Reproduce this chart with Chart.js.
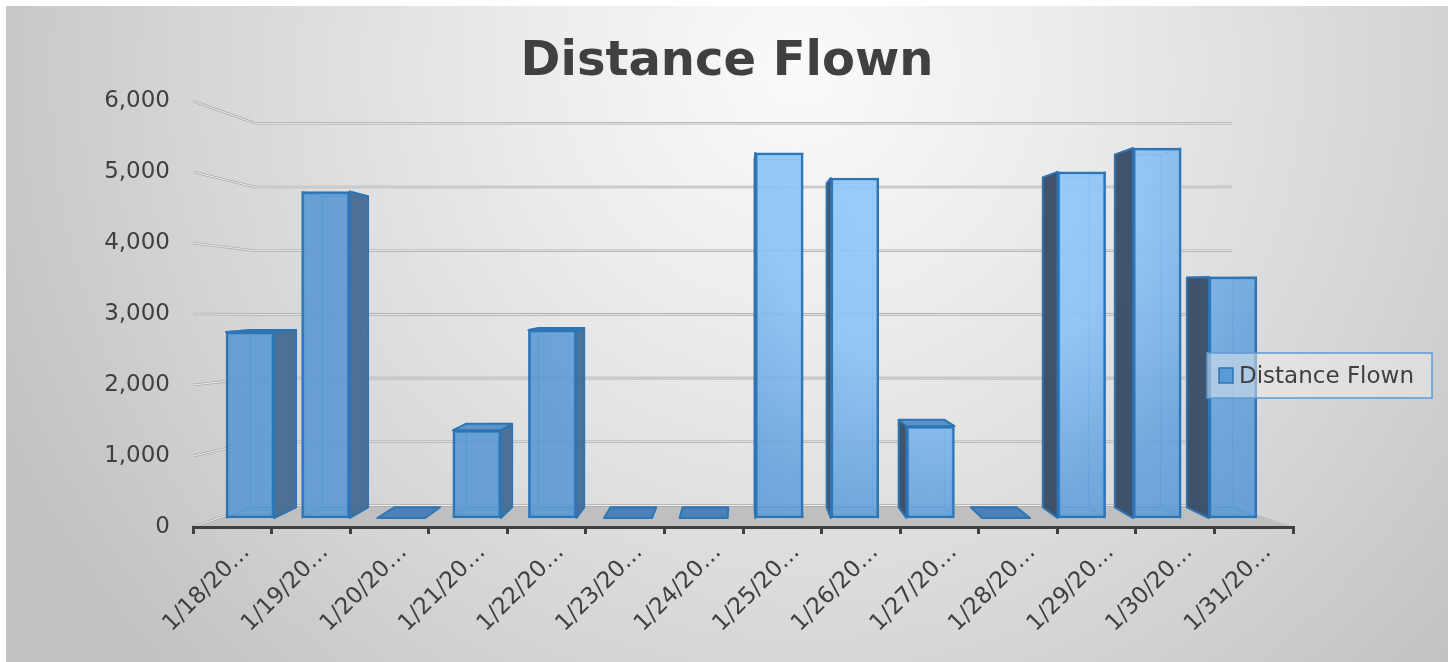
<!DOCTYPE html>
<html>
<head>
<meta charset="utf-8">
<script src="https://cdn.jsdelivr.net/npm/chart.js@4.4.1/dist/chart.umd.min.js"></script>
<style>
html,body{margin:0;padding:0;background:#fff;}
#wrap{width:1453px;height:662px;position:relative;}
</style>
</head>
<body>
<div id="wrap"><canvas id="c" width="1453" height="662"></canvas></div>
<script>
// ---- data ----
const chartTitle = 'Distance Flown';
const seriesName = 'Distance Flown';
const categories = ['1/18/20…','1/19/20…','1/20/20…','1/21/20…','1/22/20…','1/23/20…','1/24/20…',
                    '1/25/20…','1/26/20…','1/27/20…','1/28/20…','1/29/20…','1/30/20…','1/31/20…'];
const distanceFlown = [2735, 4800, 0, 1290, 2765, 0, 0, 5370, 5000, 1350, 0, 5090, 5440, 3545];
const yTickValues = [0, 1000, 2000, 3000, 4000, 5000, 6000];

// ---- style ----
const FONT = '"DejaVu Sans", Verdana, sans-serif';
const TXT = '#404040';
const VP = {x: 742, y: 290}, DK = 0.047;   // pseudo-3D depth projection
function pj(p){ return [p[0] + (VP.x - p[0]) * DK, p[1] + (VP.y - p[1]) * DK]; }

let frontGrad = null;
function frontFill(chart){
  if (!chart.chartArea) return 'rgba(91,155,213,0.88)';
  if (!frontGrad){
    const g = chart.ctx.createRadialGradient(950, 180, 0, 950, 180, 460);
    g.addColorStop(0, 'rgba(150,204,252,0.9)');
    g.addColorStop(0.42, 'rgba(138,194,245,0.9)');
    g.addColorStop(0.72, 'rgba(100,162,220,0.88)');
    g.addColorStop(1, 'rgba(88,152,212,0.88)');
    frontGrad = g;
  }
  return frontGrad;
}

const bgPlugin = {
  id: 'bg',
  beforeDraw(chart){
    const c = chart.ctx, W = chart.width, H = chart.height;
    c.save();
    c.fillStyle = '#fff'; c.fillRect(0, 0, W, H);
    const g = c.createRadialGradient(800, 70, 0, 800, 70, 880);
    g.addColorStop(0, '#fafafa');
    g.addColorStop(0.3, '#ececec');
    g.addColorStop(0.7, '#d5d5d5');
    g.addColorStop(1, '#c2c2c2');
    c.fillStyle = g; c.fillRect(6, 6, W - 11, H - 6);
    const a = chart.chartArea, yF = chart.scales.y, yW = chart.scales.yw;
    const wl = a.left + 62, wr = a.right - 61;
    const y0f = yF.getPixelForValue(0), y0w = yW.getPixelForValue(0);
    // floor
    c.beginPath();
    c.moveTo(a.left, y0f); c.lineTo(a.right, y0f); c.lineTo(wr, y0w); c.lineTo(wl, y0w); c.closePath();
    c.fillStyle = '#bfbfbf'; c.fill();
    // back wall gridlines with side connectors
    yTickValues.forEach(v => {
      const yf = yF.getPixelForValue(v), yw = yW.getPixelForValue(v);
      c.beginPath(); c.moveTo(a.left, yf); c.lineTo(wl, yw); c.lineTo(wr, yw);
      c.lineWidth = 2.6; c.strokeStyle = '#acacac'; c.stroke();
      c.lineWidth = 1; c.strokeStyle = '#ebebeb'; c.stroke();
    });
    c.restore();
  }
};

const depthPlugin = {
  id: 'depth',
  beforeDatasetsDraw(chart){
    const c = chart.ctx, meta = chart.getDatasetMeta(0);
    c.save(); c.lineJoin = 'round';
    const poly = (pts, fill) => {
      c.beginPath(); c.moveTo(pts[0][0], pts[0][1]);
      for (let i = 1; i < pts.length; i++) c.lineTo(pts[i][0], pts[i][1]);
      c.closePath(); c.fillStyle = fill; c.fill();
      c.strokeStyle = '#2e75b6'; c.lineWidth = 2; c.stroke();
    };
    meta.data.forEach(el => {
      const p = el.getProps(['x', 'y', 'base', 'width'], true);
      const x1 = p.x - p.width / 2, x2 = p.x + p.width / 2;
      const yT = Math.min(p.y, p.base), yB = Math.max(p.y, p.base);
      const TL = [x1, yT], TR = [x2, yT], BR = [x2, yB], BL = [x1, yB];
      const tl = pj(TL), tr = pj(TR), br = pj(BR), bl = pj(BL);
      const tall = yB - yT > 0.5;
      if (tall){
        c.strokeStyle = 'rgba(46,117,182,0.55)'; c.lineWidth = 1.5;
        c.beginPath();
        c.moveTo(tl[0], tl[1]); c.lineTo(tr[0], tr[1]); c.lineTo(br[0], br[1]); c.lineTo(bl[0], bl[1]); c.closePath();
        [[TL, tl], [TR, tr], [BR, br], [BL, bl]].forEach(([f, b]) => { c.moveTo(f[0], f[1]); c.lineTo(b[0], b[1]); });
        c.stroke();
        if (tr[0] > x2 + 0.5) poly([TR, tr, br, BR], 'rgba(70,106,145,0.95)');
        if (tl[0] < x1 - 0.5) poly([TL, tl, bl, BL], 'rgba(58,80,103,0.97)');
      }
      if (tl[1] < yT) poly([TL, TR, tr, tl], tall ? '#5c93c9' : '#4c81b7');
    });
    c.restore();
  }
};

const overlayPlugin = {
  id: 'overlay',
  afterDraw(chart){
    const c = chart.ctx;
    c.save();
    // title
    c.font = 'bold 48px ' + FONT; c.fillStyle = TXT; c.textAlign = 'center'; c.textBaseline = 'alphabetic';
    c.fillText(chartTitle, 727, 75);
    // legend
    const lx = 1207, ly = 353, lw = 225, lh = 45;
    c.fillStyle = 'rgba(236,236,236,0.5)'; c.fillRect(lx, ly, lw, lh);
    c.strokeStyle = '#5b9bd5'; c.lineWidth = 1.5; c.strokeRect(lx, ly, lw, lh);
    c.fillStyle = '#5b9bd5'; c.fillRect(1219, 368, 14, 15);
    c.strokeStyle = '#2e75b6'; c.lineWidth = 1.5; c.strokeRect(1219, 368, 14, 15);
    c.font = '23px ' + FONT; c.fillStyle = TXT; c.textAlign = 'left'; c.textBaseline = 'middle';
    c.fillText(chart.data.datasets[0].label, 1239, 377);
    c.restore();
  }
};

new Chart(document.getElementById('c'), {
  type: 'bar',
  data: {
    labels: categories,
    datasets: [{
      label: seriesName,
      data: distanceFlown.map((v, i) => ({x: i, y: v})),
      xAxisID: 'xb', yAxisID: 'yb',
      backgroundColor: ctx => frontFill(ctx.chart),
      borderColor: '#2e75b6', borderWidth: 2.5, borderSkipped: false,
      barThickness: 48
    }]
  },
  options: {
    responsive: false, animation: false, devicePixelRatio: 1,
    layout: {padding: {left: 0, right: 160, top: 101, bottom: 0}},
    plugins: {legend: {display: false}, title: {display: false}, tooltip: {enabled: false}},
    scales: {
      x: {
        type: 'category', position: 'bottom', offset: true,
        grid: {offset: true, drawOnChartArea: false, drawTicks: true, tickLength: 7, color: '#404040', lineWidth: 3},
        border: {display: true, color: '#404040', width: 3},
        ticks: {autoSkip: false, maxRotation: 45, minRotation: 45, labelOffset: 14, padding: 5,
                color: TXT, font: {family: FONT, size: 23}},
        afterFit(s){ s.height = 135; }
      },
      y: {
        type: 'linear', position: 'left', min: 0, max: 6000,
        afterBuildTicks(s){ s.ticks = yTickValues.map(v => ({value: v})); },
        ticks: {padding: 23, color: TXT, font: {family: FONT, size: 23},
                callback: v => Number(v).toLocaleString('en-US')},
        grid: {display: false, drawTicks: false},
        border: {display: false},
        afterFit(s){ s.width = 193; }
      },
      xb: {type: 'linear', display: false, min: -0.754, max: 13.796, offset: false, grid: {offset: false}},
      yb: {type: 'linear', display: false, min: -132, max: 6132},
      yw: {type: 'linear', display: false, min: -337.5, max: 6350}
    }
  },
  plugins: [bgPlugin, depthPlugin, overlayPlugin]
});
</script>
</body>
</html>
